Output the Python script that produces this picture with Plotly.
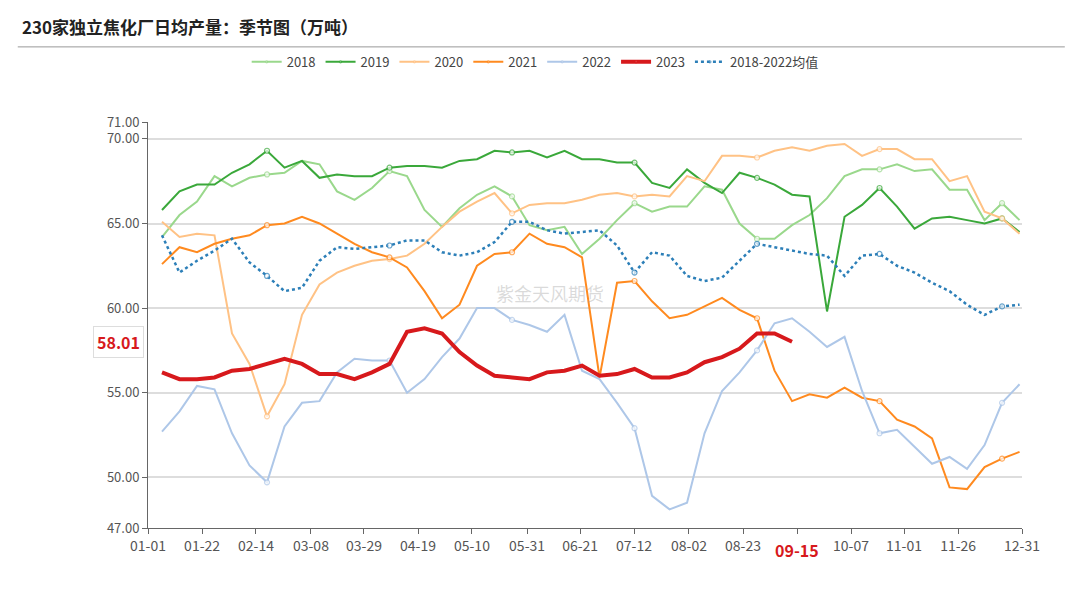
import plotly.graph_objects as go

tick_labels = ["01-01", "01-22", "02-14", "03-08", "03-29", "04-19", "05-10", "05-31", "06-21",
               "07-12", "08-02", "08-23", "09-13", "10-07", "11-01", "11-26", "12-31"]
tick_pos = [0, 3.09, 6.17, 9.31, 12.34, 15.43, 18.51, 21.66, 24.69, 27.77, 30.91, 34.0,
            37.09, 40.17, 43.2, 46.29, 49.94]

y2018 = [64.2, 65.5, 66.3, 67.8, 67.2, 67.7, 67.9, 68.0, 68.7, 68.5, 66.9, 66.4, 67.1, 68.1, 67.8, 65.8, 64.8,
         65.9, 66.7, 67.2, 66.6, 64.9, 64.6, 64.8, 63.2, 64.1, 65.2, 66.2, 65.7, 66.0, 66.0, 67.2, 67.0, 65.0,
         64.1, 64.1, 64.9, 65.5, 66.5, 67.8, 68.2, 68.2, 68.5, 68.1, 68.2, 67.0, 67.0, 65.2, 66.2, 65.2]
y2019 = [65.8, 66.9, 67.3, 67.3, 68.0, 68.5, 69.3, 68.3, 68.7, 67.7, 67.9, 67.8, 67.8, 68.3, 68.4, 68.4, 68.3,
         68.7, 68.8, 69.3, 69.2, 69.3, 68.9, 69.3, 68.8, 68.8, 68.6, 68.6, 67.4, 67.1, 68.2, 67.4, 66.8, 68.0,
         67.7, 67.3, 66.7, 66.6, 59.8, 65.4, 66.1, 67.1, 66.0, 64.7, 65.3, 65.4, 65.2, 65.0, 65.3, 64.5]
y2020 = [65.1, 64.2, 64.4, 64.3, 58.5, 56.7, 53.6, 55.5, 59.6, 61.4, 62.1, 62.5, 62.8, 62.9, 63.1, 63.8, 64.8,
         65.7, 66.3, 66.8, 65.6, 66.1, 66.2, 66.2, 66.4, 66.7, 66.8, 66.6, 66.7, 66.6, 67.8, 67.5, 69.0, 69.0,
         68.9, 69.3, 69.5, 69.3, 69.6, 69.7, 69.0, 69.4, 69.4, 68.8, 68.8, 67.5, 67.8, 65.7, 65.3, 64.4]
y2021 = [62.6, 63.6, 63.3, 63.8, 64.1, 64.3, 64.9, 65.0, 65.4, 65.0, 64.4, 63.8, 63.3, 63.0, 62.4, 61.0, 59.4,
         60.2, 62.5, 63.2, 63.3, 64.4, 63.8, 63.6, 63.0, 55.9, 61.5, 61.6, 60.4, 59.4, 59.6, 60.1, 60.6, 59.9,
         59.4, 56.3, 54.5, 54.9, 54.7, 55.3, 54.7, 54.5, 53.4, 53.0, 52.3, 49.4, 49.3, 50.6, 51.1, 51.5]
y2022 = [52.7, 53.9, 55.4, 55.2, 52.6, 50.7, 49.7, 53.0, 54.4, 54.5, 56.2, 57.0, 56.9, 56.9, 55.0, 55.8, 57.1,
         58.2, 60.0, 60.0, 59.3, 59.0, 58.6, 59.6, 56.3, 55.8, 54.4, 52.9, 48.9, 48.1, 48.5, 52.6, 55.1, 56.2,
         57.5, 59.1, 59.4, 58.6, 57.7, 58.3, 55.1, 52.6, 52.8, 51.8, 50.8, 51.2, 50.5, 51.9, 54.4, 55.5]
y2023 = [56.2, 55.8, 55.8, 55.9, 56.3, 56.4, 56.7, 57.0, 56.7, 56.1, 56.1, 55.8, 56.2, 56.7, 58.6, 58.8, 58.5,
         57.4, 56.6, 56.0, 55.9, 55.8, 56.2, 56.3, 56.6, 56.0, 56.1, 56.4, 55.9, 55.9, 56.2, 56.8, 57.1, 57.6,
         58.5, 58.5, 58.01]
y_avg = [64.3, 62.1, 62.8, 63.4, 64.1, 62.7, 61.9, 61.0, 61.2, 62.8, 63.6, 63.5, 63.6, 63.7, 64.0, 64.0, 63.3,
         63.1, 63.3, 63.9, 65.1, 65.1, 64.6, 64.4, 64.5, 64.6, 63.7, 62.1, 63.3, 63.1, 61.9, 61.6, 61.8, 62.8,
         63.8, 63.6, 63.4, 63.2, 63.1, 61.9, 63.1, 63.2, 62.5, 62.1, 61.5, 61.0, 60.2, 59.6, 60.1, 60.2]

series = [
    ("2018", y2018, "#9ad88c", 2, "solid"),
    ("2019", y2019, "#3aa83a", 2, "solid"),
    ("2020", y2020, "#ffc285", 2, "solid"),
    ("2021", y2021, "#ff8a1f", 2, "solid"),
    ("2022", y2022, "#aec7e8", 2, "solid"),
    ("2023", y2023, "#d7191c", 4, "solid"),
    ("2018-2022均值", y_avg, "#2c7fb8", 2.5, "dot"),
]

fig = go.Figure()
for name, ys, color, w, dash in series:
    xs = [k + 0.8 for k in range(len(ys))]
    sizes = [5 if k % 7 == 6 else 0 for k in range(len(ys))]
    if name == "2023":
        sizes = [0] * len(ys)
    fig.add_trace(go.Scatter(
        x=xs, y=ys, name=name, mode="lines+markers",
        line=dict(color=color, width=w, dash=dash),
        marker=dict(size=sizes, color="white", line=dict(color=color, width=1.2)),
    ))

fig.update_layout(
    width=1080, height=603,
    margin=dict(l=140, r=66, t=114, b=83),
    plot_bgcolor="white", paper_bgcolor="white",
    font=dict(family="Noto Sans CJK SC", size=13, color="#555"),
    showlegend=True,
    legend=dict(orientation="h", x=0.443, xanchor="center", y=1.148, yanchor="middle",
                font=dict(size=13, color="#444"), itemwidth=30, bgcolor="rgba(0,0,0,0)"),
    xaxis=dict(range=[0, 49.94], tickmode="array", tickvals=tick_pos,
               ticktext=[t if t != "09-13" else "" for t in tick_labels],
               showgrid=False, showline=True, linecolor="#666", ticks="outside",
               tickcolor="#666", ticklen=5, tickfont=dict(size=14, color="#555")),
    yaxis=dict(range=[47, 71], tickmode="array", tickvals=[47, 50, 55, 60, 65, 70, 71],
               tickformat=".2f", showgrid=True, gridcolor="#dddddd", gridwidth=1.5,
               showline=True, linecolor="#666", ticks="outside", tickcolor="#666", ticklen=5,
               tickfont=dict(size=13, color="#555"), zeroline=False),
)

# title and rule under it
fig.add_annotation(x=-0.146, y=1.234, xref="paper", yref="paper", xanchor="left",
                   yanchor="middle", text="<b>230家独立焦化厂日均产量：季节图（万吨）</b>", showarrow=False,
                   font=dict(size=17, color="#222"))
fig.add_shape(type="line", xref="paper", yref="paper", x0=-0.149, x1=1.049, y0=1.185, y1=1.185,
              line=dict(color="#999", width=1))
fig.add_annotation(x=37.1, y=-0.02, xref="x", yref="paper", yanchor="top", text="<b>09-15</b>",
                   showarrow=False, font=dict(size=16, color="#d7191c"), bgcolor="white")
fig.add_annotation(x=-0.005, y=58.01, xref="paper", yref="y", xanchor="right", text="<b>58.01</b>",
                   showarrow=False, font=dict(size=16, color="#d7191c"), bgcolor="white",
                   bordercolor="#ddd", borderwidth=1, borderpad=3)
fig.add_annotation(x=0.46, y=0.58, xref="paper", yref="paper", text="紫金天风期货",
                   showarrow=False, font=dict(size=18, color="rgba(150,150,150,0.35)"))

fig.write_html("out.html")
